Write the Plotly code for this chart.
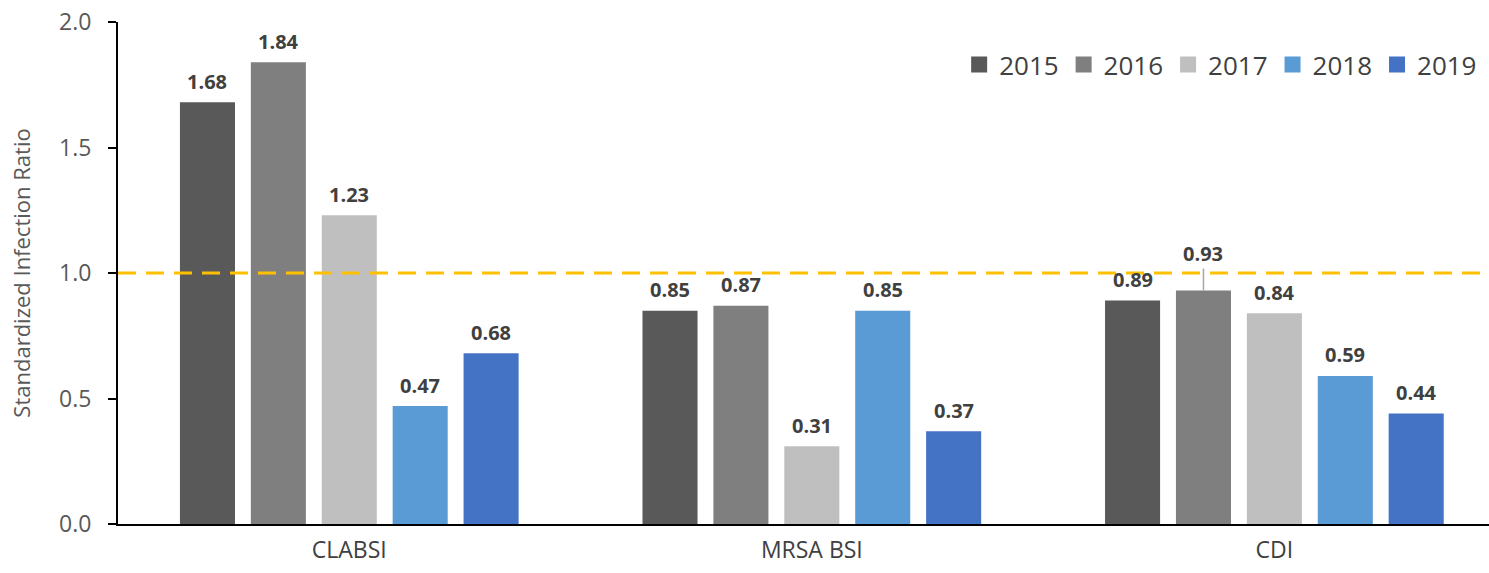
import plotly.graph_objects as go

# Standardized infection ratios by measure and year
categories = ["CLABSI", "MRSA BSI", "CDI"]
years = ["2015", "2016", "2017", "2018", "2019"]
sir_2015 = [1.68, 0.85, 0.89]
sir_2016 = [1.84, 0.87, 0.93]
sir_2017 = [1.23, 0.31, 0.84]
sir_2018 = [0.47, 0.85, 0.59]
sir_2019 = [0.68, 0.37, 0.44]
series = [sir_2015, sir_2016, sir_2017, sir_2018, sir_2019]
colors = ["#595959", "#7F7F7F", "#BFBFBF", "#5B9BD5", "#4472C4"]
y_ticks = [0.0, 0.5, 1.0, 1.5, 2.0]
benchmark = 1.0

FONT = "Open Sans"
pitch = 0.1533   # spacing between bars in a group (category units)
bar_w = 0.119

fig = go.Figure()
annotations = []
for j, (yr, vals, col) in enumerate(zip(years, series, colors)):
    xs = [i + (j - 2) * pitch for i in range(len(categories))]
    fig.add_trace(go.Bar(
        x=xs, y=vals, name=yr, width=bar_w, showlegend=False,
        marker=dict(color=col, line=dict(width=0)),
    ))
    # legend entry with a larger square swatch
    fig.add_trace(go.Scatter(
        x=[None], y=[None], mode="markers", name=yr,
        marker=dict(symbol="square", size=16, color=col),
    ))
    for i, (x, v) in enumerate(zip(xs, vals)):
        label = f"<b>{v:.2f}</b>"
        lab_font = dict(size=20, color="#404040", family=FONT)
        if categories[i] == "CDI" and yr == "2016":
            # raised label with a leader line
            annotations.append(dict(
                x=x, y=v, xref="x", yref="y", text=label,
                showarrow=True, arrowhead=0, arrowwidth=1.5, arrowcolor="#A6A6A6",
                ax=0, ay=-37, standoff=0, font=lab_font,
            ))
        else:
            annotations.append(dict(
                x=x, y=v, xref="x", yref="y", text=label,
                showarrow=False, yshift=21, yanchor="middle", font=lab_font,
            ))

# benchmark line at SIR = 1.0
fig.add_shape(type="line", xref="paper", yref="y", x0=0, x1=1,
              y0=benchmark, y1=benchmark,
              line=dict(color="#FFC000", width=3, dash="18px,10px"))

fig.update_layout(
    width=1489, height=573,
    margin=dict(l=118, r=0, t=22, b=49),
    plot_bgcolor="white", paper_bgcolor="white",
    font=dict(family=FONT, color="#595959"),
    barmode="overlay",
    annotations=annotations,
    showlegend=True,
    legend=dict(
        orientation="h", x=0.995, xanchor="right", y=0.915, yanchor="middle",
        font=dict(size=26, color="#404040"), itemwidth=30, itemsizing="trace",
        bgcolor="rgba(0,0,0,0)", traceorder="normal",
    ),
    xaxis=dict(
        range=[-0.5, 2.464], tickmode="array", tickvals=[0, 1, 2], ticktext=categories,
        showgrid=False, zeroline=False, showline=True, linecolor="black", linewidth=2,
        ticks="", ticklabelstandoff=4, tickfont=dict(size=23, color="#404040"),
    ),
    yaxis=dict(
        range=[0, 2], tickmode="array", tickvals=y_ticks,
        ticktext=[f"{t:.1f}" for t in y_ticks],
        showgrid=False, zeroline=False, showline=True, linecolor="black", linewidth=2,
        ticks="outside", ticklen=8, tickwidth=2, tickcolor="black",
        ticklabelstandoff=12,
        tickfont=dict(size=23, color="#595959"),
        title=dict(text="Standardized Infection Ratio", font=dict(size=22, color="#595959"),
                   standoff=22),
    ),
)

fig.write_html("out.html")
